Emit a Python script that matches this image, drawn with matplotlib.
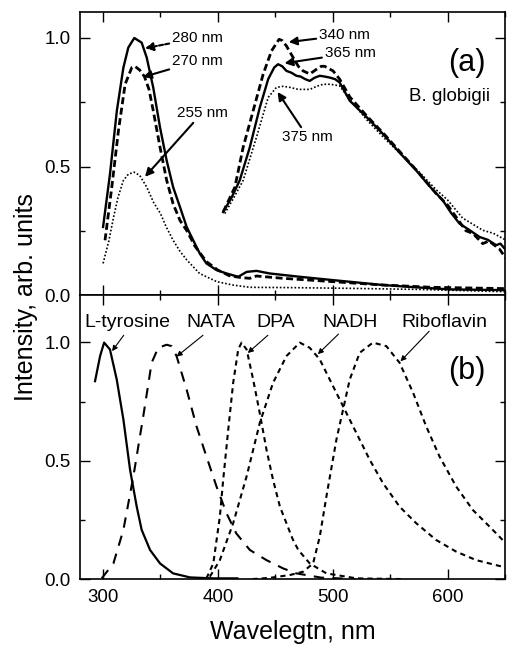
import matplotlib
matplotlib.use("Agg")
import matplotlib.pyplot as plt
from matplotlib.ticker import MultipleLocator

plt.rcParams['font.family'] = ['Liberation Sans', 'DejaVu Sans']

# ---- panel (a): B. globigii, UV band (excitation 280 / 270 / 255 nm)
wl_uv_280 = [300, 306, 312, 317.7, 322, 327.2, 333.6, 338, 343.7, 349.6, 355.4, 361, 367, 372.8,
             378.5, 384.3, 390, 398.8, 407.5, 417.7, 425, 433.6, 445, 471.3, 500.3, 543.7, 572.8, 601.7, 650]
int_uv_280 = [0.265, 0.47, 0.717, 0.885, 0.963, 1.0, 0.982, 0.924, 0.807, 0.652, 0.523, 0.42, 0.342, 0.265,
              0.213, 0.161, 0.123, 0.097, 0.084, 0.071, 0.09, 0.094, 0.084, 0.071, 0.058, 0.039, 0.03, 0.022, 0.019]

wl_uv_270 = [301.7, 307.6, 313.4, 319.2, 325, 327.7, 332, 336, 340, 343.7, 349.6, 355.4, 361, 367,
             373, 380, 390, 400, 410, 420, 427.8, 433.6, 456.8, 500.3, 543.7, 587.2, 650]
int_uv_270 = [0.213, 0.42, 0.64, 0.82, 0.885, 0.89, 0.875, 0.85, 0.8, 0.717, 0.575, 0.446, 0.355, 0.29,
              0.25, 0.19, 0.13, 0.097, 0.075, 0.068, 0.065, 0.074, 0.065, 0.052, 0.039, 0.03, 0.025]

wl_uv_255 = [300, 305, 309, 313, 317.7, 322, 327, 332, 338, 344, 350, 355, 361, 367, 373, 384,
             399, 413, 427.8, 460, 514.8, 572.8, 650]
int_uv_255 = [0.123, 0.21, 0.30, 0.38, 0.446, 0.47, 0.478, 0.465, 0.42, 0.36, 0.317, 0.265, 0.213, 0.17,
              0.136, 0.084, 0.052, 0.039, 0.03, 0.029, 0.026, 0.022, 0.013]

# ---- panel (a): visible band (excitation 365 / 340 / 375 nm)
wl_vis_365 = [404.6, 412, 419, 427.8, 436.5, 443.8, 449, 452.4, 456, 459.7, 464, 468.4, 472, 476, 480,
              484, 488.7, 493, 497.4, 502, 506, 514.8, 530, 543.7, 558, 572.8, 585, 595.9, 603, 610.4,
              620, 627.8, 635, 642.3, 646, 651]
int_vis_365 = [0.323, 0.38, 0.446, 0.575, 0.73, 0.84, 0.885, 0.898, 0.89, 0.872, 0.865, 0.853, 0.85, 0.84, 0.833,
               0.845, 0.853, 0.85, 0.846, 0.84, 0.827, 0.756, 0.69, 0.627, 0.555, 0.484, 0.42, 0.368, 0.32, 0.278,
               0.25, 0.226, 0.215, 0.194, 0.2, 0.174]

wl_vis_340 = [404.6, 414.8, 422, 430.7, 439.4, 446.7, 453.3, 456, 459.7, 465.5, 470, 474.2, 480, 485.8,
              490, 493, 497, 500.3, 506, 515, 530, 545, 560, 575, 590, 600, 608, 616, 622, 630.6, 636, 645, 651]
int_vis_340 = [0.323, 0.42, 0.575, 0.717, 0.859, 0.95, 0.995, 0.99, 0.969, 0.924, 0.89, 0.872, 0.86, 0.878,
               0.89, 0.89, 0.88, 0.872, 0.84, 0.77, 0.695, 0.625, 0.55, 0.475, 0.395, 0.35, 0.3, 0.25, 0.24,
               0.2, 0.21, 0.18, 0.142]

wl_vis_375 = [406, 414, 422, 433.6, 443.8, 451, 457, 462.6, 470, 480, 486, 491.6, 498, 506, 515, 530,
              545, 560, 575, 590, 600, 613, 630.6, 640, 651]
int_vis_375 = [0.317, 0.38, 0.446, 0.614, 0.769, 0.808, 0.812, 0.808, 0.8, 0.8, 0.812, 0.82, 0.82, 0.814,
               0.76, 0.68, 0.61, 0.545, 0.48, 0.41, 0.37, 0.30, 0.252, 0.24, 0.213]

# ---- panel (b): reference fluorophores
wl_tyr = [293, 297.4, 300.9, 306, 311.9, 317.7, 323.5, 329.3, 333.6, 340.9, 349.6, 361, 375.7, 396, 417]
int_tyr = [0.836, 0.942, 0.999, 0.97, 0.843, 0.674, 0.462, 0.306, 0.208, 0.123, 0.066, 0.024, 0.007, 0.003, 0.003]

wl_nata = [298.8, 309, 317.7, 326.4, 335, 342.3, 348, 355.4, 359.7, 364, 372.8, 381.4, 390, 398.8,
           407.5, 416, 427.8, 442.3, 456.8, 468.4, 490, 520]
int_nata = [0.003, 0.066, 0.208, 0.434, 0.688, 0.914, 0.977, 0.99, 0.984, 0.942, 0.80, 0.645, 0.518, 0.391,
            0.278, 0.193, 0.123, 0.08, 0.045, 0.024, 0.006, 0.0]

wl_dpa = [390, 396, 401.7, 404.6, 409, 413.3, 417.7, 420.6, 425, 430.7, 436.5, 442.3, 448, 454,
          459.7, 465, 470, 480, 494.5, 520.6, 560]
int_dpa = [0.003, 0.066, 0.264, 0.419, 0.631, 0.829, 0.97, 0.999, 0.97, 0.843, 0.70, 0.547, 0.42, 0.306,
           0.236, 0.17, 0.123, 0.066, 0.024, 0.003, 0.0]

wl_nadh = [393, 401.7, 413.3, 425, 436.5, 448, 459.7, 471.3, 480, 488.7, 497.4, 509, 520.6, 532.2,
           543.8, 558.2, 572.7, 590.1, 607.5, 624.9, 648]
int_nadh = [0.01, 0.08, 0.236, 0.434, 0.66, 0.829, 0.942, 0.999, 0.977, 0.928, 0.843, 0.73, 0.617, 0.504,
            0.405, 0.306, 0.236, 0.165, 0.116, 0.08, 0.052]

wl_ribo = [430, 445, 462.6, 474.2, 482.9, 488.7, 494.5, 503.2, 509, 514.8, 523.5, 535, 546.7, 558.2,
           570, 581.4, 593, 607.5, 622, 636.5, 648]
int_ribo = [0.0, 0.005, 0.017, 0.031, 0.066, 0.179, 0.349, 0.589, 0.716, 0.843, 0.956, 0.999, 0.984, 0.914,
            0.787, 0.645, 0.518, 0.391, 0.292, 0.222, 0.165]

fig = plt.figure(figsize=(5.07, 6.47), dpi=100)
ax_a = fig.add_axes([0.158, 0.544, 0.838, 0.437])
ax_b = fig.add_axes([0.158, 0.105, 0.838, 0.439])

for ax in (ax_a, ax_b):
    ax.set_xlim(280, 650)
    ax.xaxis.set_major_locator(MultipleLocator(100))
    ax.xaxis.set_minor_locator(MultipleLocator(50))
    ax.yaxis.set_major_locator(MultipleLocator(0.5))
    ax.yaxis.set_minor_locator(MultipleLocator(0.25))
    ax.tick_params(which='both', direction='in', top=True, right=True, width=1.0, labelsize=13.5, pad=7)
    ax.tick_params(which='major', length=7)
    ax.tick_params(which='minor', length=3.5)
    for s in ax.spines.values():
        s.set_linewidth(1.2)

ax_a.set_ylim(0, 1.1)
ax_b.set_ylim(0, 1.2)
ax_a.tick_params(labelbottom=False)

# panel (a)
ax_a.plot(wl_uv_280, int_uv_280, color='black', lw=1.7)
ax_a.plot(wl_uv_270, int_uv_270, color='black', lw=2.0, dashes=(2.5, 1.3))
ax_a.plot(wl_uv_255, int_uv_255, color='black', lw=1.2, dashes=(1, 1.2))
ax_a.plot(wl_vis_365, int_vis_365, color='black', lw=1.7)
ax_a.plot(wl_vis_340, int_vis_340, color='black', lw=2.0, dashes=(2.5, 1.3))
ax_a.plot(wl_vis_375, int_vis_375, color='black', lw=1.2, dashes=(1, 1.2))

akw = dict(arrowstyle='-|>', color='black', lw=1.5, mutation_scale=12, shrinkA=0, shrinkB=0)
fs_ann = 11
ax_a.annotate('280 nm', xy=(336.5, 0.96), xytext=(360, 1.0), fontsize=fs_ann, va='center',
              arrowprops=dict(akw, linestyle=(0, (2, 1))))
ax_a.annotate('270 nm', xy=(334.8, 0.848), xytext=(360, 0.91), fontsize=fs_ann, va='center', arrowprops=akw)
ax_a.annotate('255 nm', xy=(336.5, 0.46), xytext=(364, 0.708), fontsize=fs_ann, va='center', arrowprops=akw)
ax_a.annotate('340 nm', xy=(461.7, 0.984), xytext=(488, 1.011), fontsize=fs_ann, va='center', arrowprops=akw)
ax_a.annotate('365 nm', xy=(458, 0.902), xytext=(493, 0.94), fontsize=fs_ann, va='center', arrowprops=akw)
ax_a.annotate('375 nm', xy=(452, 0.79), xytext=(456, 0.615), fontsize=fs_ann, va='center', ha='left',
              arrowprops=akw)
ax_a.text(617, 0.902, '(a)', fontsize=22, ha='center', va='center')
ax_a.text(602, 0.774, 'B. globigii', fontsize=13.5, ha='center', va='center')

# panel (b)
ax_b.plot(wl_tyr, int_tyr, color='black', lw=1.6)
ax_b.plot(wl_nata, int_nata, color='black', lw=1.5, dashes=(5, 4))
ax_b.plot(wl_dpa, int_dpa, color='black', lw=1.5, dashes=(2.5, 2))
ax_b.plot(wl_nadh, int_nadh, color='black', lw=1.5, dashes=(2.5, 2))
ax_b.plot(wl_ribo, int_ribo, color='black', lw=1.5, dashes=(2.5, 2))

bkw = dict(arrowstyle='-|>', color='black', lw=0.8, mutation_scale=8, shrinkA=0, shrinkB=0)
label_y = 1.086
fs_lab = 14
ax_b.text(321, label_y, 'L-tyrosine', fontsize=fs_lab, ha='center', va='center')
ax_b.text(394, label_y, 'NATA', fontsize=fs_lab, ha='center', va='center')
ax_b.text(450, label_y, 'DPA', fontsize=fs_lab, ha='center', va='center')
ax_b.text(515, label_y, 'NADH', fontsize=fs_lab, ha='center', va='center')
ax_b.text(597, label_y, 'Riboflavin', fontsize=fs_lab, ha='center', va='center')
ax_b.annotate('', xy=(307.8, 0.963), xytext=(318, 1.03), arrowprops=bkw)
ax_b.annotate('', xy=(364, 0.94), xytext=(387, 1.03), arrowprops=bkw)
ax_b.annotate('', xy=(426, 0.955), xytext=(443.5, 1.03), arrowprops=bkw)
ax_b.annotate('', xy=(487, 0.95), xytext=(505, 1.035), arrowprops=bkw)
ax_b.annotate('', xy=(559, 0.92), xytext=(584, 1.047), arrowprops=bkw)
ax_b.text(617, 0.878, '(b)', fontsize=22, ha='center', va='center')

fig.text(0.052, 1 - 297 / 647, 'Intensity, arb. units', rotation=90, fontsize=18, ha='center', va='center')
fig.text(0.577, 1 - 632 / 647, 'Wavelegtn, nm', fontsize=18, ha='center', va='center')

fig.savefig('out.png', dpi=100)
